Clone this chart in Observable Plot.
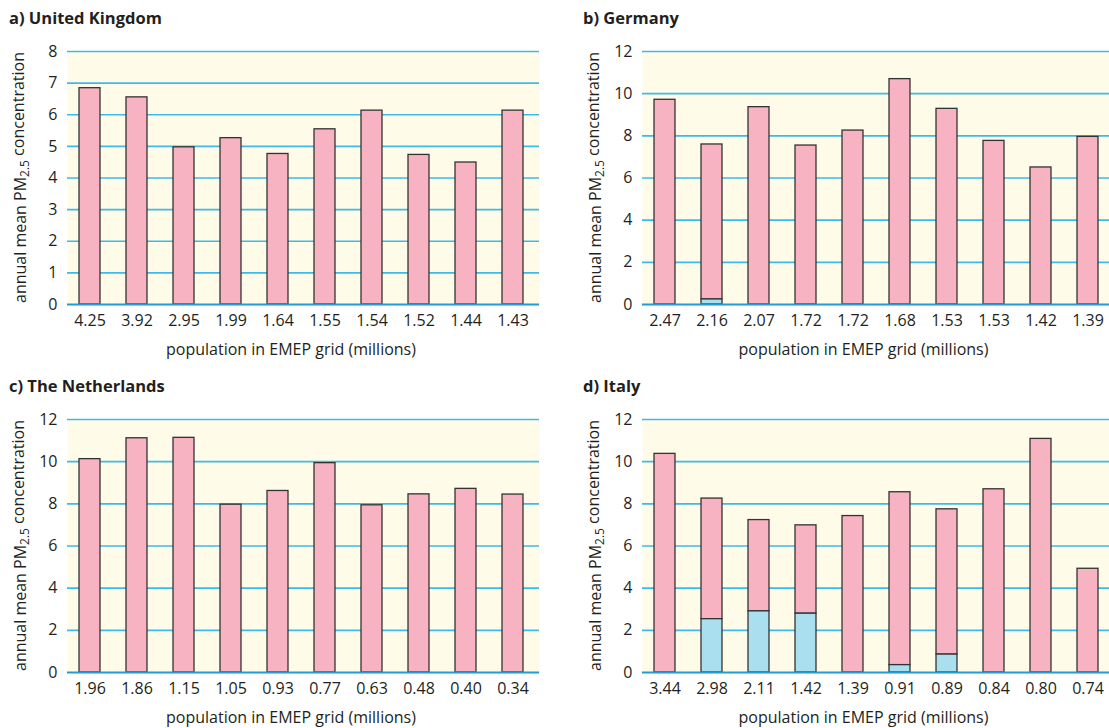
<!DOCTYPE html>
<html>
<head>
<meta charset="utf-8">
<script src="https://cdn.jsdelivr.net/npm/d3@7"></script>
<script src="https://cdn.jsdelivr.net/npm/@observablehq/plot@0.6"></script>
<style>
  html, body { margin: 0; padding: 0; background: #ffffff; }
  #chart { position: relative; width: 1109px; height: 728px; overflow: hidden; font-family: "Open Sans", sans-serif; }
  .panel { position: absolute; }
  .title { position: absolute; font-weight: bold; font-size: 16.5px; color: #231f20; line-height: 20px; white-space: nowrap; }
  svg { overflow: visible; }
</style>
</head>
<body>
<div id="chart"></div>
<script>
// ---- data ----
const ukLabels = ["4.25", "3.92", "2.95", "1.99", "1.64", "1.55", "1.54", "1.52", "1.44", "1.43"];
const ukValues = [6.84, 6.55, 4.97, 5.26, 4.76, 5.54, 6.13, 4.73, 4.49, 6.13];

const deLabels = ["2.47", "2.16", "2.07", "1.72", "1.72", "1.68", "1.53", "1.53", "1.42", "1.39"];
const deValues = [9.71, 7.59, 9.36, 7.54, 8.25, 10.69, 9.28, 7.76, 6.5, 7.95];
const deLower  = [0, 0.24, 0, 0, 0, 0, 0, 0, 0, 0];

const nlLabels = ["1.96", "1.86", "1.15", "1.05", "0.93", "0.77", "0.63", "0.48", "0.40", "0.34"];
const nlValues = [10.12, 11.11, 11.13, 7.96, 8.61, 9.93, 7.93, 8.45, 8.71, 8.44];

const itLabels = ["3.44", "2.98", "2.11", "1.42", "1.39", "0.91", "0.89", "0.84", "0.80", "0.74"];
const itValues = [10.37, 8.25, 7.23, 6.98, 7.42, 8.55, 7.74, 8.69, 11.08, 4.92];
const itLower  = [0, 2.53, 2.90, 2.79, 0, 0.35, 0.85, 0, 0, 0];

const ticks8  = [0, 1, 2, 3, 4, 5, 6, 7, 8];
const ticks12 = [0, 2, 4, 6, 8, 10, 12];

const panelTitles = ["a) United Kingdom", "b) Germany", "c) The Netherlands", "d) Italy"];
const xLabel = "population in EMEP grid (millions)";

// ---- styles ----
const BG = "#fefbe9";
const GRID = "#3cbbe9";
const ZERO = "#1f9bd4";
const PINK = "#f7b3c1";
const BLUE = "#aadff0";
const STROKE = "#333333";

const chart = document.getElementById("chart");

function panel({labels, values, lower, ticks, yMax, left, top, width, height, mL, mR, mB, xRange, title, titleX, yLabelX}) {
  const rows = labels.map((l, i) => ({i, total: values[i], lower: lower ? lower[i] : 0}));
  const svg = Plot.plot({
    width, height,
    marginTop: 51, marginBottom: mB, marginLeft: mL, marginRight: mR,
    style: {fontFamily: "'Open Sans', sans-serif", fontSize: "16px", color: "#231f20", background: "transparent", overflow: "visible"},
    x: {type: "band", domain: d3.range(labels.length), range: xRange, paddingInner: 0.545, paddingOuter: 0.2725},
    y: {domain: [0, yMax]},
    marks: [
      Plot.frame({fill: BG, stroke: null}),
      Plot.ruleY(ticks.filter(t => t > 0), {stroke: GRID, strokeWidth: 1.6}),
      Plot.barY(rows, {x: "i", y1: "lower", y2: "total", fill: PINK, stroke: STROKE, strokeWidth: 1.3}),
      Plot.barY(rows.filter(d => d.lower > 0), {x: "i", y1: 0, y2: "lower", fill: BLUE, stroke: STROKE, strokeWidth: 1.3}),
      Plot.ruleY([0], {stroke: ZERO, strokeWidth: 2}),
      Plot.axisY({ticks, tickSize: 0, tickPadding: 10, label: null, fontSize: 16}),
      Plot.axisX({tickSize: 0, tickPadding: 10, tickFormat: i => labels[i], label: null, fontSize: 16})
    ]
  });
  const div = document.createElement("div");
  div.className = "panel";
  div.style.left = left + "px";
  div.style.top = top + "px";
  div.appendChild(svg);
  chart.appendChild(div);

  const s = d3.select(svg);
  const plotTop = 51, plotBottom = height - mB;
  const cy = (plotTop + plotBottom) / 2;
  const yl = s.append("text")
    .attr("transform", `translate(${yLabelX},${cy}) rotate(-90)`)
    .attr("text-anchor", "middle")
    .attr("dy", "0.35em")
    .attr("fill", "#231f20")
    .style("font-size", "16px");
  yl.append("tspan").text("annual mean PM");
  yl.append("tspan").attr("dy", "0.3em").style("font-size", "12px").text("2.5");
  yl.append("tspan").attr("dy", "-0.3em").text(" concentration");

  const xc = (mL + (width - mR)) / 2 - 12;
  s.append("text")
    .attr("x", xc).attr("y", 349)
    .attr("text-anchor", "middle").attr("dy", "0.35em")
    .attr("fill", "#231f20")
    .style("font-size", "16px")
    .text(xLabel);

  const t = document.createElement("div");
  t.className = "title";
  t.style.left = titleX + "px";
  t.style.top = (top + 8) + "px";
  t.textContent = title;
  chart.appendChild(t);
}

panel({labels: ukLabels, values: ukValues, lower: null, ticks: ticks8, yMax: 8,
  left: 0, top: 0, width: 555, height: 364, mL: 67, mR: 16, mB: 60, xRange: [65, 538],
  title: panelTitles[0], titleX: 9, yLabelX: 20});
panel({labels: deLabels, values: deValues, lower: deLower, ticks: ticks12, yMax: 12,
  left: 555, top: 0, width: 554, height: 364, mL: 87, mR: 0, mB: 60, xRange: [85, 558],
  title: panelTitles[1], titleX: 583, yLabelX: 40});
panel({labels: nlLabels, values: nlValues, lower: null, ticks: ticks12, yMax: 12,
  left: 0, top: 368, width: 555, height: 360, mL: 67, mR: 16, mB: 56, xRange: [65, 538],
  title: panelTitles[2], titleX: 9, yLabelX: 20});
panel({labels: itLabels, values: itValues, lower: itLower, ticks: ticks12, yMax: 12,
  left: 555, top: 368, width: 554, height: 360, mL: 87, mR: 0, mB: 56, xRange: [85, 558],
  title: panelTitles[3], titleX: 583, yLabelX: 40});
</script>
</body>
</html>
